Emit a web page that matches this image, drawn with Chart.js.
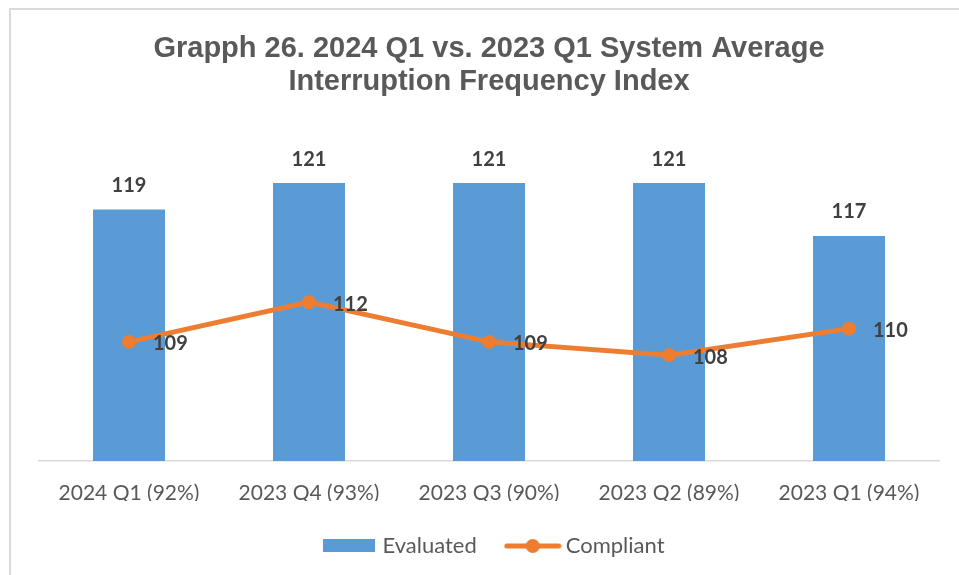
<!DOCTYPE html>
<html>
<head>
<meta charset="utf-8">
<script src="https://cdn.jsdelivr.net/npm/chart.js@4/dist/chart.umd.min.js"></script>
<style>
  html, body { margin: 0; padding: 0; background: #fff; }
  #wrap { position: relative; width: 959px; height: 575px; overflow: hidden; }
  #frame { position: absolute; left: 9px; top: 8px; width: 1000px; height: 600px;
           border-top: 2px solid #d9d9d9; border-left: 2px solid #d9d9d9; }
  canvas { position: absolute; left: 0; top: 0; }
</style>
</head>
<body>
<div id="wrap">
  <div id="frame"></div>
  <canvas id="chart" width="959" height="575"></canvas>
</div>
<script>
const categories = ["2024 Q1 (92%)", "2023 Q4 (93%)", "2023 Q3 (90%)", "2023 Q2 (89%)", "2023 Q1 (94%)"];
const evaluated = [119, 121, 121, 121, 117];
const compliant = [109, 112, 109, 108, 110];
const titleLines = ["Grapph 26. 2024 Q1 vs. 2023 Q1 System Average", "Interruption Frequency Index"];

const blue = "#5b9bd5";
const orange = "#ed7d31";

// legend swatches
function swatchBar() {
  const c = document.createElement("canvas");
  c.width = 52; c.height = 14;
  const g = c.getContext("2d");
  g.fillStyle = blue;
  g.fillRect(0, 0, 52, 13);
  return c;
}
function swatchLine() {
  const c = document.createElement("canvas");
  c.width = 58; c.height = 16;
  const g = c.getContext("2d");
  g.strokeStyle = orange;
  g.lineWidth = 5;
  g.lineCap = "round";
  g.beginPath(); g.moveTo(3, 8); g.lineTo(55, 8); g.stroke();
  g.fillStyle = orange;
  g.beginPath(); g.arc(29, 8, 7, 0, Math.PI * 2); g.fill();
  return c;
}
const swatches = [swatchBar(), swatchLine()];

const valueLabels = {
  id: "valueLabels",
  afterLayout(chart) {
    // nudge legend a bit to the right, like the original
    chart.legend.left += 7;
    chart.legend.right += 7;
  },
  afterDatasetsDraw(chart) {
    const ctx = chart.ctx;
    ctx.save();
    ctx.font = "bold 20px Lato";
    ctx.fillStyle = "#404040";
    ctx.textBaseline = "middle";
    chart.getDatasetMeta(0).data.forEach((bar, i) => {
      ctx.textAlign = "center";
      ctx.fillText(evaluated[i], bar.x, bar.y - 24);
    });
    chart.getDatasetMeta(1).data.forEach((pt, i) => {
      ctx.textAlign = "left";
      ctx.fillText(compliant[i], pt.x + 24, pt.y + 2);
    });
    ctx.restore();
  }
};

const ctx = document.getElementById("chart").getContext("2d");
const chart = new Chart(ctx, {
  type: "bar",
  data: {
    labels: categories,
    datasets: [
      {
        label: "Evaluated",
        data: evaluated,
        backgroundColor: blue,
        categoryPercentage: 1,
        barPercentage: 0.4,
        order: 2
      },
      {
        type: "line",
        label: "Compliant",
        data: compliant,
        borderColor: orange,
        backgroundColor: orange,
        borderWidth: 5,
        pointRadius: 7,
        pointHoverRadius: 7,
        pointBackgroundColor: orange,
        pointBorderWidth: 0,
        tension: 0,
        order: 1
      }
    ]
  },
  options: {
    responsive: false,
    animation: false,
    layout: { padding: { left: 39, right: 20, top: 0, bottom: 8 } },
    plugins: {
      title: {
        display: true,
        text: titleLines,
        color: "#595959",
        font: { family: "'Liberation Sans', Arial", size: 29, weight: "bold", lineHeight: 1.14 },
        padding: { top: 32.5, bottom: 31.5 }
      },
      legend: {
        position: "bottom",
        labels: {
          usePointStyle: true,
          pointStyleWidth: 44,
          boxHeight: 14,
          padding: 34,
          color: "#595959",
          font: { family: "Lato", size: 22 },
          generateLabels(chart) {
            return chart.data.datasets.map((ds, i) => ({
              text: ds.label,
              pointStyle: swatches[i],
              fillStyle: ds.backgroundColor,
              strokeStyle: ds.backgroundColor,
              lineWidth: 0,
              hidden: false,
              datasetIndex: i,
              fontColor: "#595959"
            }));
          }
        }
      },
      tooltip: { enabled: false }
    },
    scales: {
      x: {
        grid: { display: false, drawTicks: false },
        border: { display: true, color: "#d9d9d9", width: 1.5 },
        ticks: { color: "#595959", padding: 22, font: { family: "Lato", size: 21, lineHeight: 1.0 } },
        afterFit(scale) { scale.height -= 25; }
      },
      y: {
        display: false,
        min: 100,
        max: 125
      }
    }
  },
  plugins: [valueLabels]
});
</script>
</body>
</html>
